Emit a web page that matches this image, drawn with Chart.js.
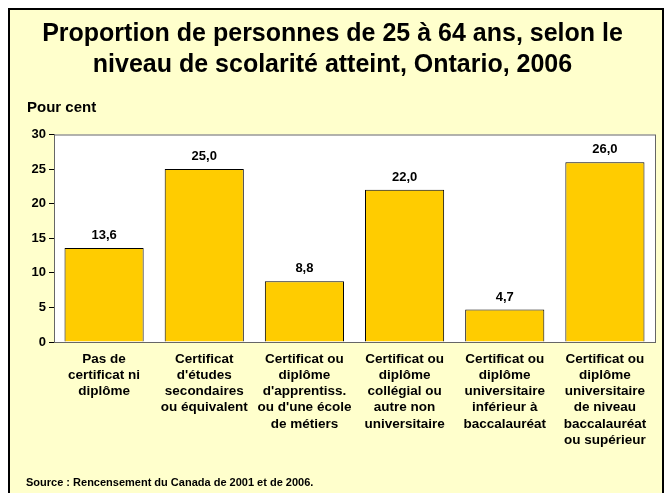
<!DOCTYPE html>
<html lang="fr">
<head>
<meta charset="utf-8">
<script src="https://cdn.jsdelivr.net/npm/chart.js@4.4.1/dist/chart.umd.min.js"></script>
<style>
  html, body { margin: 0; padding: 0; background: #ffffff; }
  #wrap { width: 665px; height: 493px; position: relative; }
</style>
</head>
<body>
<div id="wrap"><canvas id="graf"></canvas></div>
<script>
/* Données */
const categories = [
  ['Pas de', 'certificat ni', 'diplôme'],
  ['Certificat', "d'études", 'secondaires', 'ou équivalent'],
  ['Certificat ou', 'diplôme', "d'apprentiss.", "ou d'une école", 'de métiers'],
  ['Certificat ou', 'diplôme', 'collégial ou', 'autre non', 'universitaire'],
  ['Certificat ou', 'diplôme', 'universitaire', 'inférieur à', 'baccalauréat'],
  ['Certificat ou', 'diplôme', 'universitaire', 'de niveau', 'baccalauréat', 'ou supérieur']
];
const pourcentages = [13.6, 25.0, 8.8, 22.0, 4.7, 26.0];
const yTicks = [0, 5, 10, 15, 20, 25, 30];

const titre = ['Proportion de personnes de 25 à 64 ans, selon le', 'niveau de scolarité atteint, Ontario, 2006'];
const axeY = 'Pour cent';
const source = 'Source : Rencensement du Canada de 2001 et de 2006.';

const jaune = '#FFCC00';
const creme = '#FFFFCC';
const police = 'Arial, "Liberation Sans", sans-serif';

/* Fond crème, cadre noir, zone de tracé blanche */
const fondPlugin = {
  id: 'fond',
  beforeDraw(chart) {
    const { ctx, chartArea: a } = chart;
    ctx.save();
    ctx.fillStyle = '#ffffff';
    ctx.fillRect(0, 0, chart.width, chart.height);
    ctx.fillStyle = creme;
    ctx.fillRect(9, 9, 654, chart.height);
    ctx.strokeStyle = '#000000';
    ctx.lineWidth = 2;
    ctx.strokeRect(9, 9, 654, chart.height + 10);
    ctx.fillStyle = '#ffffff';
    ctx.fillRect(a.left, a.top, a.right - a.left, a.bottom - a.top);
    ctx.restore();
  },
  afterDraw(chart) {
    const { ctx, chartArea: a } = chart;
    ctx.save();
    ctx.strokeStyle = '#666666';
    ctx.lineWidth = 1;
    ctx.strokeRect(a.left + 0.5, a.top + 0.5, a.right - a.left, a.bottom - a.top);
    ctx.fillStyle = '#000000';
    ctx.textBaseline = 'middle';
    ctx.textAlign = 'left';
    ctx.font = 'bold 15px ' + police;
    ctx.fillText(axeY, 27, 108);
    ctx.font = 'bold 11px ' + police;
    ctx.fillText(source, 26, 483);
    ctx.restore();
  }
};

/* Étiquettes de valeur au-dessus des barres */
const valeursPlugin = {
  id: 'valeurs',
  afterDatasetsDraw(chart) {
    const { ctx } = chart;
    const meta = chart.getDatasetMeta(0);
    ctx.save();
    ctx.fillStyle = '#000000';
    ctx.font = 'bold 13px ' + police;
    ctx.textAlign = 'center';
    ctx.textBaseline = 'bottom';
    meta.data.forEach((bar, i) => {
      ctx.fillText(pourcentages[i].toFixed(1).replace('.', ','), bar.x, bar.y - 6);
    });
    ctx.restore();
  }
};

new Chart(document.getElementById('graf'), {
  type: 'bar',
  data: {
    labels: categories,
    datasets: [{
      data: pourcentages,
      backgroundColor: jaune,
      borderColor: '#000000',
      borderWidth: 1,
      barPercentage: 0.79,
      categoryPercentage: 1
    }]
  },
  options: {
    responsive: true,
    maintainAspectRatio: false,
    animation: false,
    layout: { padding: { left: 10, right: 10, top: 0, bottom: 0 } },
    plugins: {
      legend: { display: false },
      tooltip: { enabled: false },
      title: {
        display: true,
        text: titre,
        color: '#000000',
        font: { family: police, size: 25, weight: 'bold', lineHeight: 1.25 },
        padding: { top: 18, bottom: 54 }
      }
    },
    scales: {
      y: {
        min: 0,
        max: 30,
        afterFit(scale) { scale.width = 44; },
        afterBuildTicks(scale) { scale.ticks = yTicks.map(v => ({ value: v })); },
        border: { color: '#666666' },
        grid: { drawOnChartArea: false, tickLength: 5, color: '#000000' },
        ticks: { color: '#000000', padding: 3, font: { family: police, size: 13, weight: 'bold' } }
      },
      x: {
        afterFit(scale) { scale.height = 151; },
        border: { color: '#666666' },
        grid: { display: false },
        ticks: {
          color: '#000000',
          padding: 1,
          maxRotation: 0,
          autoSkip: false,
          font: { family: police, size: 13.5, weight: 'bold', lineHeight: 1.2 }
        }
      }
    }
  },
  plugins: [fondPlugin, valeursPlugin]
});
</script>
</body>
</html>
